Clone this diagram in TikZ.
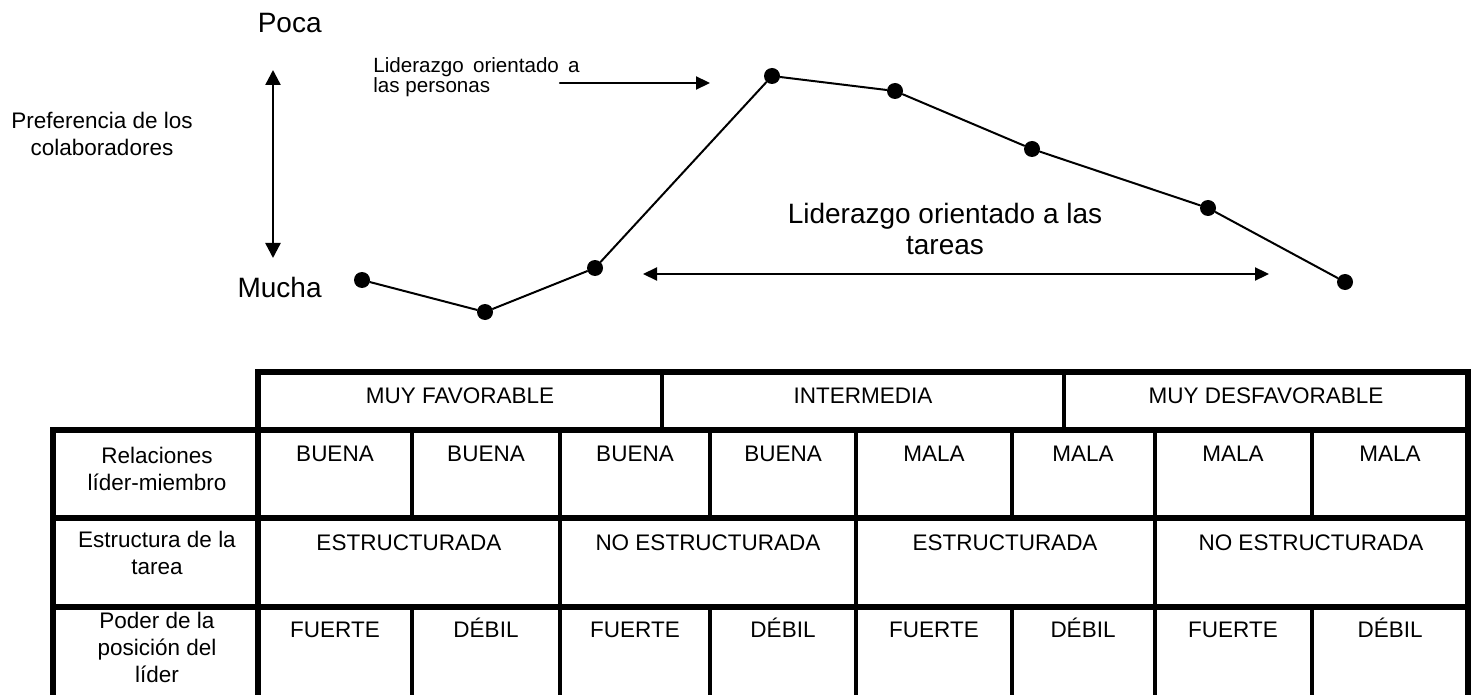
\documentclass[tikz,border=0pt]{standalone}
\usepackage{fontspec}
\setmainfont{Liberation Sans}
\usepackage{tikz}
\definecolor{ink}{HTML}{000000}
\usetikzlibrary{
  arrows.meta,
  positioning
}
\tikzset{
  >=Latex,
  every picture/.style={line cap=round, line join=round},
  every node/.style={text=ink},
  dot/.style={circle, fill=ink, draw=none, inner sep=0pt, minimum size=8pt},
  curve/.style={line width=1pt, draw=ink},
  arrow/.style={-{Triangle[length=7pt, width=6.5pt]}, line width=1.1pt, draw=ink},
  biarrow/.style={{Triangle[length=7pt, width=6.5pt]}-{Triangle[length=7pt, width=6.5pt]}, line width=1.1pt, draw=ink},
  scalearrow/.style={{Triangle[length=7.5pt, width=7.5pt]}-{Triangle[length=7.5pt, width=7.5pt]}, line width=1.2pt, draw=ink},
  annot/.style={font=\fontsize{11.25}{13.5}\selectfont, text=ink},
  bigannot/.style={font=\fontsize{14}{15.5}\selectfont, text=ink},
  smallannot/.style={font=\fontsize{10.3}{10}\selectfont, text=ink},
  cell/.style={annot, anchor=base, inner sep=0pt},
  rowlabel/.style={annot, anchor=north, align=center, inner sep=0pt},
  frame/.style={line width=2.6pt, draw=ink, line cap=rect, line join=miter},
  rule/.style={line width=1.6pt, draw=ink, line cap=butt}
}

\begin{document}
\begin{tikzpicture}[x=0.5pt, y=-0.5pt]
  \path[use as bounding box, fill=white] (0,0) rectangle (1471,695);

  % Preference scale (left)
  \node[bigannot, anchor=base east, inner sep=0pt] (poca) at (322,33) {Poca};
  \node[bigannot, anchor=base east, inner sep=0pt] (mucha) at (322,297) {Mucha};
  \coordinate (scaletop) at (273,70);
  \coordinate (scalebot) at (273,258);
  \draw[scalearrow] (scaletop) -- (scalebot);
  \node[annot, anchor=north, align=center, inner sep=0pt] (pref) at (102,112) {Preferencia de los\\colaboradores};

  % LPC curve over the eight octants
  \foreach \n/\px/\py in {1/362/280, 2/485/312, 3/595/268, 4/772/76, 5/895/91, 6/1032/149, 7/1208/208, 8/1345/282}
    \node[dot] (p\n) at (\px,\py) {};
  \draw[curve] (p1) -- (p2) -- (p3) -- (p4) -- (p5) -- (p6) -- (p7) -- (p8);

  % People oriented
  \node[smallannot, anchor=north west, align=left, inner sep=0pt] (people) at (373,57)
    {Liderazgo\hspace{1.75pt} orientado\hspace{1.75pt} a\\las personas};
  \coordinate (peoplefrom) at (560,83);
  \coordinate (peopleto) at (710,83);
  \draw[arrow] (peoplefrom) -- (peopleto);

  % Task oriented
  \node[bigannot, anchor=north, align=center, inner sep=0pt] (task) at (945,203) {Liderazgo orientado a las\\tareas};
  \coordinate (taskleft) at (643,274);
  \coordinate (taskright) at (1269,274);
  \draw[biarrow] (taskleft) -- (taskright);

  % Table grid
  \foreach \x in {412,710,1012,1312} {
    \draw[rule] (\x,430) -- (\x,518);
    \draw[rule] (\x,607) -- (\x,700);
  }
  \foreach \x in {560,856,1155}
    \draw[rule] (\x,430) -- (\x,700);
  \draw[rule] (662,372) -- (662,430);
  \draw[rule] (1064,372) -- (1064,430);
  \draw[frame] (258,700) |- (1468,372) -- (1468,700);
  \draw[frame] (53,700) |- (1468,430);
  \draw[frame] (53,518) -- (1468,518);
  \draw[frame] (53,607) -- (1468,607);

  % Header and row labels
  \foreach \cx/\lbl [count=\i] in {460/MUY FAVORABLE, 863/INTERMEDIA, 1266/MUY DESFAVORABLE}
    \node[cell] (head\i) at (\cx,403) {\lbl};
  \node[rowlabel] (rel) at (157,447) {Relaciones\\líder-miembro};
  \node[rowlabel] (est) at (157,531) {Estructura de la\\tarea};
  \node[rowlabel] (pod) at (157,612) {Poder de la\\posición del\\líder};

  % Cells
  \foreach \cx/\lbl [count=\i] in {335/BUENA, 486/BUENA, 635/BUENA, 783/BUENA, 934/MALA, 1083/MALA, 1233/MALA, 1390/MALA}
    \node[cell] (rel\i) at (\cx,461) {\lbl};
  \foreach \cx/\lbl [count=\i] in {409/ESTRUCTURADA, 708/NO ESTRUCTURADA, 1005/ESTRUCTURADA, 1311/NO ESTRUCTURADA}
    \node[cell] (est\i) at (\cx,550) {\lbl};
  \foreach \cx/\lbl [count=\i] in {335/FUERTE, 486/DÉBIL, 635/FUERTE, 783/DÉBIL, 934/FUERTE, 1083/DÉBIL, 1233/FUERTE, 1390/DÉBIL}
    \node[cell] (pod\i) at (\cx,637) {\lbl};
\end{tikzpicture}
\end{document}
